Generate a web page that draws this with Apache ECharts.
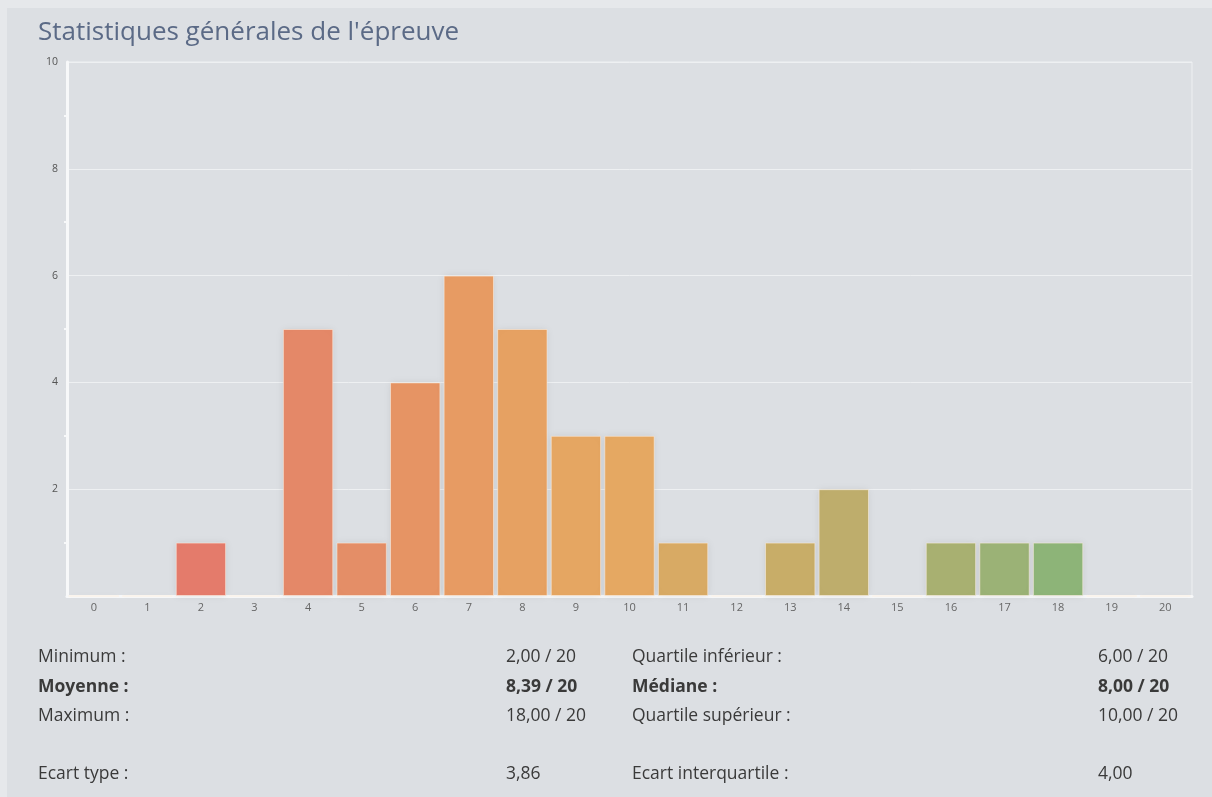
<!DOCTYPE html>
<html>
<head>
<meta charset="utf-8">
<script src="https://cdn.jsdelivr.net/npm/echarts@6/dist/echarts.min.js"></script>
<style>
html,body{margin:0;padding:0;background:#dcdfe3;}
#c{width:1212px;height:797px;}
</style>
</head>
<body>
<div id="c"></div>
<script>
var titleText = "Statistiques générales de l'épreuve";
var categories = ['0','1','2','3','4','5','6','7','8','9','10','11','12','13','14','15','16','17','18','19','20'];
var counts = [0,0,1,0,5,1,4,6,5,3,3,1,0,1,2,0,1,1,1,0,0];
var yTicks = [0,2,4,6,8,10];
var statsLeft = [
  ['Minimum :', '2,00 / 20', false],
  ['Moyenne :', '8,39 / 20', true],
  ['Maximum :', '18,00 / 20', false],
  ['Ecart type :', '3,86', false]
];
var statsRight = [
  ['Quartile inférieur :', '6,00 / 20', false],
  ['Médiane :', '8,00 / 20', true],
  ['Quartile supérieur :', '10,00 / 20', false],
  ['Ecart interquartile :', '4,00', false]
];
var palette = ['#e47a6b','#e47a6b','#e47b6b','#e48268','#e48868','#e48e67','#e69464','#e79b63','#e6a162','#e5a662','#e5a862','#d8aa64','#cfac66','#c8ad68','#bead6c','#b3ae6e','#a8b071','#9bb276','#8db478','#8db478','#8db478'];

var rowY = [657, 687, 716, 774];
var graphics = [
  {type:'rect', left:0, top:0, shape:{width:1212, height:8}, style:{fill:'#e6e8eb'}, silent:true},
  {type:'rect', left:0, top:0, shape:{width:7, height:797}, style:{fill:'#e6e8eb'}, silent:true},
  {type:'text', x:38, y:33, style:{text:titleText, font:'26px "Open Sans"', fill:'#5b6a86', verticalAlign:'middle'}}
];
function addRows(rows, xLabel, xVal){
  rows.forEach(function(r,i){
    var font = (r[2] ? 'bold ' : '') + '17.5px "Open Sans"';
    graphics.push({type:'text', x:xLabel, y:rowY[i], style:{text:r[0], font:font, fill:'#3a3a3a', verticalAlign:'middle'}});
    graphics.push({type:'text', x:xVal, y:rowY[i], style:{text:r[1], font:font, fill:'#3a3a3a', verticalAlign:'middle'}});
  });
}
addRows(statsLeft, 38, 506);
addRows(statsRight, 632, 1098);

var chart = echarts.init(document.getElementById('c'), null, {renderer:'canvas'});
chart.setOption({
  backgroundColor:'#dcdfe3',
  animation:false,
  grid:{left:67, right:20, top:62, bottom:201, show:true, borderColor:'#eef0f2', borderWidth:1, backgroundColor:'transparent'},
  xAxis:{
    type:'category', data:categories,
    axisLine:{lineStyle:{color:'#f7f8f9', width:3}},
    axisTick:{show:false},
    axisLabel:{color:'#666', fontSize:11, fontFamily:'Open Sans', margin:6},
    splitLine:{show:false}
  },
  yAxis:{
    type:'value', min:yTicks[0], max:yTicks[yTicks.length-1], interval:2,
    axisLine:{show:true, lineStyle:{color:'#f7f8f9', width:3}},
    axisTick:{show:false},
    minorTick:{show:true, splitNumber:2, length:3, lineStyle:{color:'#f7f8f9', width:2}},
    axisLabel:{color:'#555', fontSize:10.5, fontFamily:'Open Sans', margin:9, showMinLabel:false,
      formatter:function(v){return v===0?'':String(v);}},
    splitLine:{show:true, lineStyle:{color:'#eef0f2', width:1}}
  },
  series:[{
    type:'bar',
    data:counts.map(function(v,i){return {value:v, itemStyle:{color:palette[i]}};}),
    barCategoryGap:'6%',
    itemStyle:{borderColor:'rgba(255,240,225,0.55)', borderWidth:1, shadowColor:'rgba(0,0,0,0.08)', shadowBlur:8},
    emphasis:{disabled:true}
  }],
  graphic:graphics
});
</script>
</body>
</html>
